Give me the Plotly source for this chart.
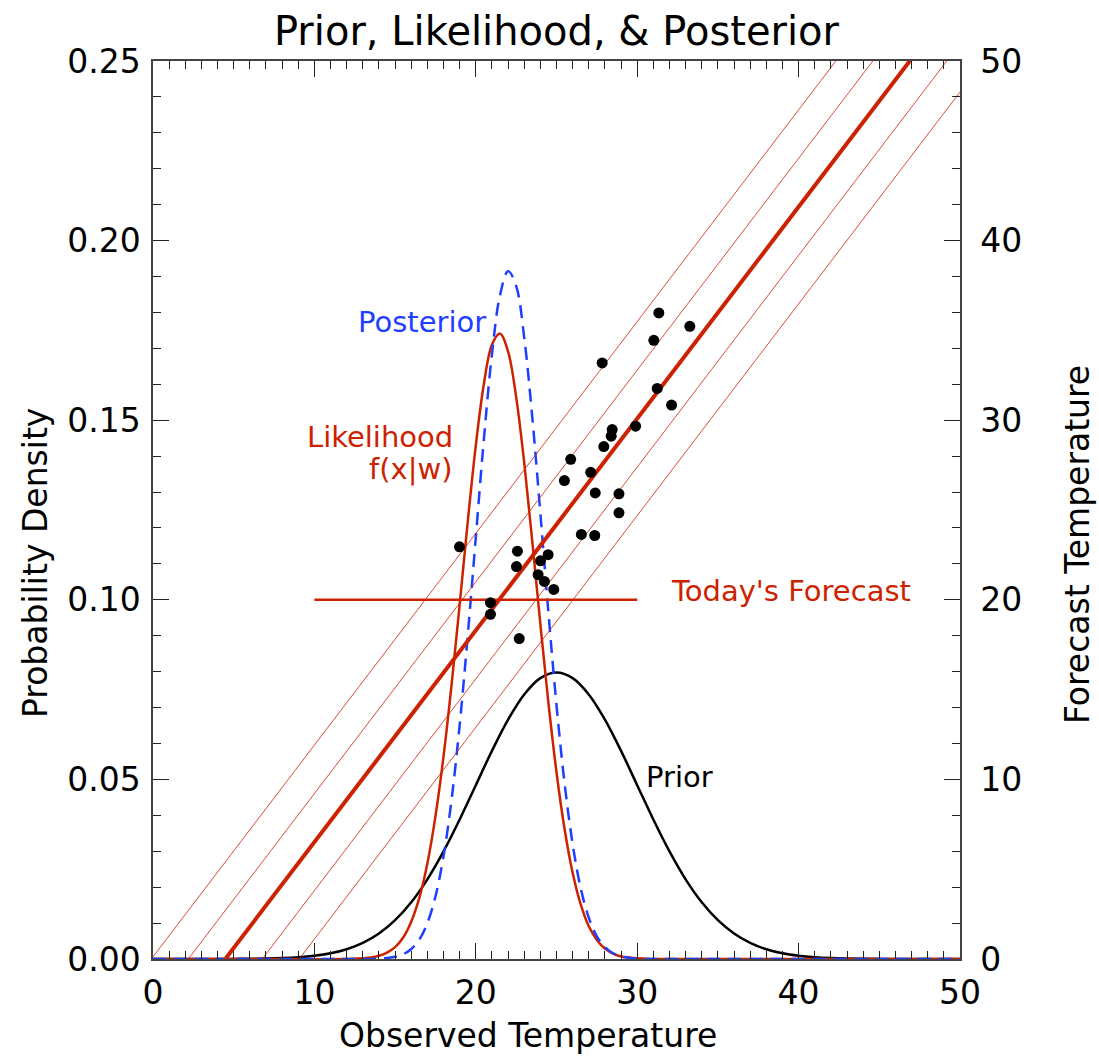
import plotly.graph_objects as go

# ---- data ----
obs_temp = [31.34, 33.26, 31.03, 27.83, 31.24, 32.13, 29.90, 28.45, 28.39, 27.93,
            25.88, 27.12, 25.49, 27.40, 28.87, 28.87, 26.54, 27.37, 18.99, 22.58,
            22.52, 24.48, 24.01, 23.86, 24.25, 24.83, 20.91, 20.91, 22.69]
fcst_temp = [35.97, 35.23, 34.45, 33.19, 31.77, 30.84, 29.67, 29.48, 29.11, 28.53,
             27.82, 27.10, 26.64, 25.95, 25.90, 24.84, 23.64, 23.58, 22.95, 22.71,
             21.85, 22.51, 22.17, 21.40, 21.02, 20.58, 19.84, 19.19, 17.84]

reg_x = [0, 50]
reg_center = [-5.28, 53.67]
reg_plus2 = [0.12, 59.07]
reg_plus1 = [-2.58, 56.37]
reg_minus1 = [-7.98, 50.97]
reg_minus2 = [-10.68, 48.27]

forecast_x = [10, 30]
forecast_y = [20, 20]

prior_x = list(range(0, 51))
prior_y = [0, 0, 0, 0, 0, 0.00003, 0.00006, 0.00012, 0.00025, 0.00048,
           0.00089, 0.00158, 0.00272, 0.00448, 0.00709, 0.01080, 0.01579, 0.02218,
           0.02995, 0.03884, 0.04839, 0.05794, 0.06665, 0.07366, 0.07821, 0.07979,
           0.07821, 0.07366, 0.06665, 0.05794, 0.04839, 0.03884, 0.02995, 0.02218,
           0.01579, 0.01080, 0.00709, 0.00448, 0.00272, 0.00158, 0.00089, 0.00048,
           0.00025, 0.00012, 0.00006, 0.00003, 0, 0, 0, 0, 0]

curve_x = [0, 6, 12, 12.5, 13, 13.5, 14, 14.5, 15, 15.5, 16, 16.5, 17, 17.5, 18, 18.5,
           19, 19.5, 20, 20.5, 21, 21.5, 22, 22.5, 23, 23.5, 24, 24.5, 25, 25.5,
           26, 26.5, 27, 27.5, 28, 28.5, 29, 29.5, 30, 30.5, 31, 32, 38, 44, 50]
likelihood_y = [0, 0, 0, 0.0001, 0.0002, 0.0004, 0.0009, 0.0018, 0.0033, 0.0060,
                0.0104, 0.0170, 0.0266, 0.0397, 0.0564, 0.0764, 0.0987, 0.1217,
                0.1430, 0.1601, 0.1710, 0.1741, 0.1691, 0.1565, 0.1381, 0.1162,
                0.0932, 0.0713, 0.0520, 0.0362, 0.0240, 0.0152, 0.0091, 0.0053,
                0.0029, 0.0015, 0.0007, 0.0004, 0.0002, 0.0001, 0, 0, 0, 0, 0]
posterior_y = [0, 0, 0, 0, 0, 0, 0.0001, 0.0003, 0.0006, 0.0013, 0.0028, 0.0054,
               0.0100, 0.0174, 0.0286, 0.0444, 0.0651, 0.0900, 0.1174, 0.1447,
               0.1683, 0.1848, 0.1915, 0.1874, 0.1730, 0.1508, 0.1241, 0.0964,
               0.0707, 0.0489, 0.0320, 0.0197, 0.0115, 0.0063, 0.0033, 0.0016,
               0.0007, 0.0003, 0.0001, 0, 0, 0, 0, 0, 0]

x_ticks = [0, 10, 20, 30, 40, 50]
y_ticks = [0.00, 0.05, 0.10, 0.15, 0.20, 0.25]
y2_ticks = [0, 10, 20, 30, 40, 50]

RED = "#CC2200"
BLUE = "#1F3FFF"
FONT = "DejaVu Sans"
W, H = 1099, 1058
PL, PR, PT, PB = 153, 960, 61, 959  # plot-area pixel edges


def px(xp):
    return (xp - PL) / (PR - PL)


def py(yp):
    return (PB - yp) / (PB - PT)


fig = go.Figure()

for band in (reg_plus2, reg_plus1, reg_minus1, reg_minus2):
    fig.add_trace(go.Scatter(x=reg_x, y=band, yaxis="y2", mode="lines",
                             line=dict(color=RED, width=0.8), showlegend=False,
                             hoverinfo="skip"))
fig.add_trace(go.Scatter(x=reg_x, y=reg_center, yaxis="y2", mode="lines",
                         line=dict(color=RED, width=4), showlegend=False))
fig.add_trace(go.Scatter(x=forecast_x, y=forecast_y, yaxis="y2", mode="lines",
                         line=dict(color=RED, width=2.5), showlegend=False))

fig.add_trace(go.Scatter(x=prior_x, y=prior_y, mode="lines", line_shape="spline",
                         line=dict(color="black", width=2.5), showlegend=False))
fig.add_trace(go.Scatter(x=curve_x, y=likelihood_y, mode="lines", line_shape="spline",
                         line=dict(color=RED, width=2.5), showlegend=False))
fig.add_trace(go.Scatter(x=curve_x, y=posterior_y, mode="lines", line_shape="spline",
                         line=dict(color=BLUE, width=2.5, dash="13px,8px"), showlegend=False))

fig.add_trace(go.Scatter(x=obs_temp, y=fcst_temp, yaxis="y2", mode="markers",
                         marker=dict(color="black", size=11), showlegend=False))

axis_line = dict(showline=True, linecolor="#444", linewidth=1.5, showgrid=False,
                 zeroline=False, ticks="inside", ticklen=16, tickwidth=1.2,
                 tickcolor="#222")

fig.update_layout(
    width=W, height=H,
    margin=dict(l=PL, r=W - PR, t=PT, b=H - PB),
    paper_bgcolor="white", plot_bgcolor="white",
    font=dict(family=FONT, size=28, color="black"),
    title=dict(text="Prior, Likelihood, & Posterior", x=0.5, xref="paper",
               xanchor="center", y=1 - 31 / H, yref="container", yanchor="middle",
               font=dict(family=FONT, size=40, color="black")),
    xaxis=dict(range=[0, 50], tickvals=x_ticks, mirror="ticks",
               minor=dict(ticks="inside", ticklen=8, dtick=1, tickcolor="#222"),
               tickfont=dict(size=33), ticklabelstandoff=4, **axis_line),
    yaxis=dict(range=[0, 0.25], tickvals=y_ticks, tickformat=".2f",
               minor=dict(ticks="inside", ticklen=8, dtick=0.01, tickcolor="#222"),
               tickfont=dict(size=33), ticklabelstandoff=4, **axis_line),
    yaxis2=dict(range=[0, 50], tickvals=y2_ticks, overlaying="y", side="right",
                minor=dict(ticks="inside", ticklen=8, dtick=2, tickcolor="#222"),
                tickfont=dict(size=33), ticklabelstandoff=12, **axis_line),
    annotations=[
        dict(x=px(528), y=py(1035), xref="paper", yref="paper",
             text="Observed Temperature", showarrow=False,
             xanchor="center", yanchor="middle", font=dict(size=33)),
        dict(x=px(35), y=py(563), xref="paper", yref="paper",
             text="Probability Density", showarrow=False, textangle=-90,
             xanchor="center", yanchor="middle", font=dict(size=33)),
        dict(x=px(1077), y=py(545), xref="paper", yref="paper",
             text="Forecast Temperature", showarrow=False, textangle=-90,
             xanchor="center", yanchor="middle", font=dict(size=33)),
        dict(x=20.73, y=0.1773, xref="x", yref="y", text="Posterior", showarrow=False,
             xanchor="right", yanchor="middle", font=dict(color=BLUE, size=29)),
        dict(x=18.74, y=0.1453, xref="x", yref="y", text="Likelihood", showarrow=False,
             xanchor="right", yanchor="middle", font=dict(color=RED, size=29)),
        dict(x=18.74, y=0.1364, xref="x", yref="y", text="f(x|w)", showarrow=False,
             xanchor="right", yanchor="middle", font=dict(color=RED, size=29)),
        dict(x=32.0, y=0.1024, xref="x", yref="y", text="Today's Forecast", showarrow=False,
             xanchor="left", yanchor="middle", font=dict(color=RED, size=29)),
        dict(x=30.45, y=0.0507, xref="x", yref="y", text="Prior", showarrow=False,
             xanchor="left", yanchor="middle", font=dict(color="black", size=29)),
    ],
)

fig.write_html("out.html")
